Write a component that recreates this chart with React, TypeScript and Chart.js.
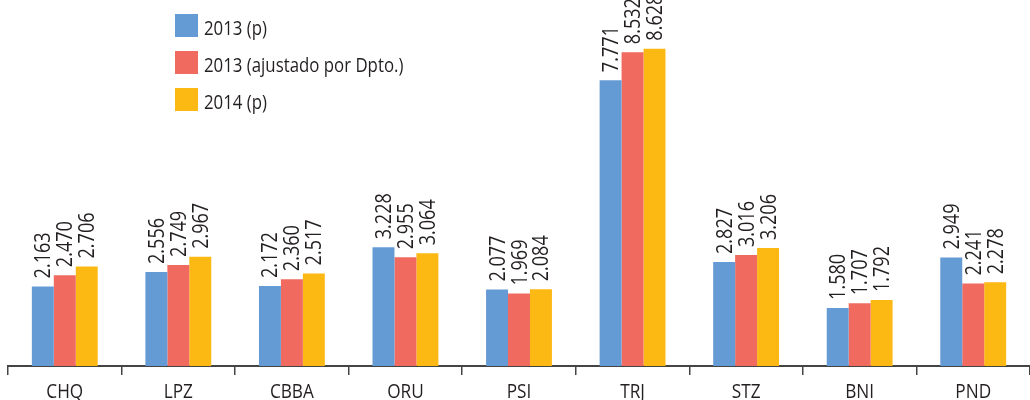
import React, { useEffect, useRef } from "react";
import { Chart, registerables } from "chart.js";

Chart.register(...registerables);

const categories = ["CHQ", "LPZ", "CBBA", "ORU", "PSI", "TRJ", "STZ", "BNI", "PND"];
const seriesNames = ["2013 (p)", "2013 (ajustado por Dpto.)", "2014 (p)"];
const values2013 = [2163, 2556, 2172, 3228, 2077, 7771, 2827, 1580, 2949];
const values2013Adj = [2470, 2749, 2360, 2955, 1969, 8532, 3016, 1707, 2241];
const values2014 = [2706, 2967, 2517, 3064, 2084, 8628, 3206, 1792, 2278];
const colors = ["#659BD4", "#F06A60", "#FDB913"];

const FONT = "'Open Sans', 'Noto Sans', sans-serif";
const TEXT = "#231F20";

function fmt(v: number): string {
  const a = Math.floor(v / 1000);
  const b = String(v % 1000).padStart(3, "0");
  return `${a}.${b}`;
}

const textPlugin = {
  id: "customText",
  afterDatasetsDraw(chart: any) {
    const ctx = chart.ctx;
    ctx.save();
    ctx.fillStyle = TEXT;
    ctx.font = `21px ${FONT}`;
    ctx.textAlign = "left";
    ctx.textBaseline = "alphabetic";
    chart.data.datasets.forEach((ds: any, i: number) => {
      const meta = chart.getDatasetMeta(i);
      meta.data.forEach((el: any, j: number) => {
        ctx.save();
        ctx.translate(el.x + 7.5, el.y - 8);
        ctx.rotate(-Math.PI / 2);
        ctx.scale(0.86, 1);
        ctx.fillText(fmt(ds.data[j]), 0, 0);
        ctx.restore();
      });
    });
    ctx.restore();
  },
  afterDraw(chart: any) {
    const ctx = chart.ctx;
    ctx.save();
    ctx.textAlign = "left";
    ctx.textBaseline = "alphabetic";
    ctx.font = `20.5px ${FONT}`;
    seriesNames.forEach((name, i) => {
      const top = 14 + i * 37;
      ctx.fillStyle = colors[i];
      ctx.fillRect(175, top, 23, 23);
      ctx.fillStyle = TEXT;
      ctx.save();
      ctx.translate(204, top + 21.3);
      ctx.scale(0.82, 1);
      ctx.fillText(name, 0, 0);
      ctx.restore();
    });
    // x-axis category labels
    const xs = chart.scales.x;
    ctx.font = `20px ${FONT}`;
    ctx.textAlign = "center";
    categories.forEach((c, i) => {
      const x = xs.getPixelForTick(i);
      ctx.save();
      ctx.translate(x, 398);
      ctx.scale(0.86, 1);
      ctx.fillText(c, 0, 0);
      ctx.restore();
    });
    ctx.restore();
  },
};

export default function App() {
  const ref = useRef<HTMLCanvasElement>(null);
  useEffect(() => {
    const chart = new Chart(ref.current!, {
      type: "bar",
      data: {
        labels: categories,
        datasets: [
          { label: seriesNames[0], data: values2013, backgroundColor: colors[0] },
          { label: seriesNames[1], data: values2013Adj, backgroundColor: colors[1] },
          { label: seriesNames[2], data: values2014, backgroundColor: colors[2] },
        ],
      },
      options: {
        animation: false,
        responsive: false,
        maintainAspectRatio: false,
        layout: { padding: { left: 8, right: 0, top: 0, bottom: 25 } },
        datasets: {
          bar: { categoryPercentage: 0.58, barPercentage: 1.0 },
        },
        plugins: {
          legend: { display: false },
          tooltip: { enabled: false },
          title: { display: false },
        },
        scales: {
          x: {
            grid: {
              offset: true,
              drawOnChartArea: false,
              drawTicks: true,
              tickLength: 9,
              color: "#444",
              lineWidth: 1.5,
            },
            border: { display: true, color: "#444", width: 2 },
            ticks: { display: false },
          },
          y: {
            display: false,
            min: 0,
            max: 9950,
          },
        },
      },
      plugins: [textPlugin],
    });
    return () => chart.destroy();
  }, []);
  return (
    <div style={{ position: "fixed", left: 0, top: 0, width: 1030, height: 400 }}>
      <canvas ref={ref} width={1030} height={400} style={{ display: "block" }} />
    </div>
  );
}
